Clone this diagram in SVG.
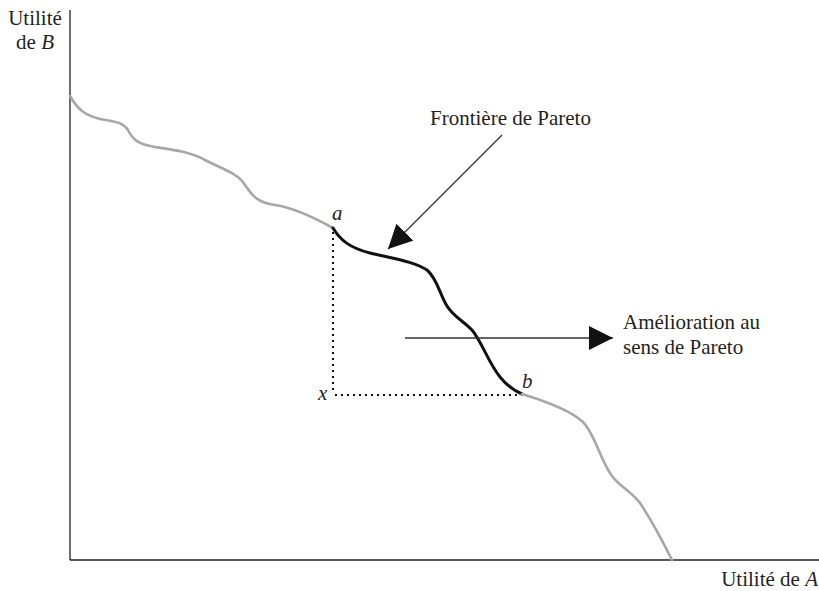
<svg xmlns="http://www.w3.org/2000/svg" width="819" height="591" viewBox="0 0 819 591">
<style>
text{font-family:"Liberation Serif","Times New Roman",serif;font-size:21px;fill:#231f20}
.it{font-style:italic}
.axis{stroke:#231f20;stroke-width:1.3;fill:none}
.gray{stroke:#a7a7a7;stroke-width:2.6;fill:none;stroke-linecap:round}
.black{stroke:#111;stroke-width:3;fill:none;stroke-linecap:round}
.dot{stroke:#111;stroke-width:2;fill:none;stroke-dasharray:2 4}
.arr{stroke:#333;stroke-width:1.3;fill:none}
</style>
<defs>
<marker id="ah" markerUnits="userSpaceOnUse" markerWidth="24" markerHeight="24" viewBox="0 0 22 22" refX="22" refY="11" orient="auto">
<path d="M0,0 L22,11 L0,22 Z" fill="#111"/>
</marker>
</defs>
<rect width="819" height="591" fill="#fff"/>
<g id="axes">
<line class="axis" x1="70" y1="10" x2="70" y2="560"/>
<line class="axis" x1="70" y1="560" x2="819" y2="560"/>
</g>
<g id="frontier">
<path class="gray" d="M70,96 C78,110 85,115 100,119 C115,122 123,122 128,130 C133,140 138,144 155,147 C175,150 190,152 205,160 C220,168 235,172 243,182 C252,196 258,203 275,205 C295,208 315,218 333,228"/>
<path class="black" d="M333,228 C340,240 350,248 370,253 C395,259 415,262 427,270 C437,278 440,295 447,306 C453,316 462,320 472,330 C482,342 488,362 500,377 C508,387 515,391 522,394"/>
<path class="gray" d="M522,394 C545,401 570,410 583,422 C595,434 600,460 612,476 C620,487 630,490 640,503 C650,518 662,540 672,560"/>
</g>
<g id="dotted">
<line class="dot" x1="333" y1="232" x2="333" y2="394"/>
<line class="dot" x1="335" y1="395" x2="520" y2="395"/>
</g>
<g id="connectors">
<line class="arr" x1="502" y1="135" x2="388" y2="249" marker-end="url(#ah)"/>
<line class="arr" x1="405" y1="338" x2="613" y2="338" marker-end="url(#ah)"/>
</g>
<g id="labels">
<text x="35" y="25" text-anchor="middle">Utilité</text>
<text x="35" y="49" text-anchor="middle">de <tspan class="it">B</tspan></text>
<text x="818" y="586" text-anchor="end">Utilité de <tspan class="it">A</tspan></text>
<text x="430" y="125">Frontière de Pareto</text>
<text x="623" y="329">Amélioration au</text>
<text x="623" y="354">sens de Pareto</text>
<text class="it" x="332" y="220">a</text>
<text class="it" x="522" y="388">b</text>
<text class="it" x="318" y="400">x</text>
</g>
</svg>
